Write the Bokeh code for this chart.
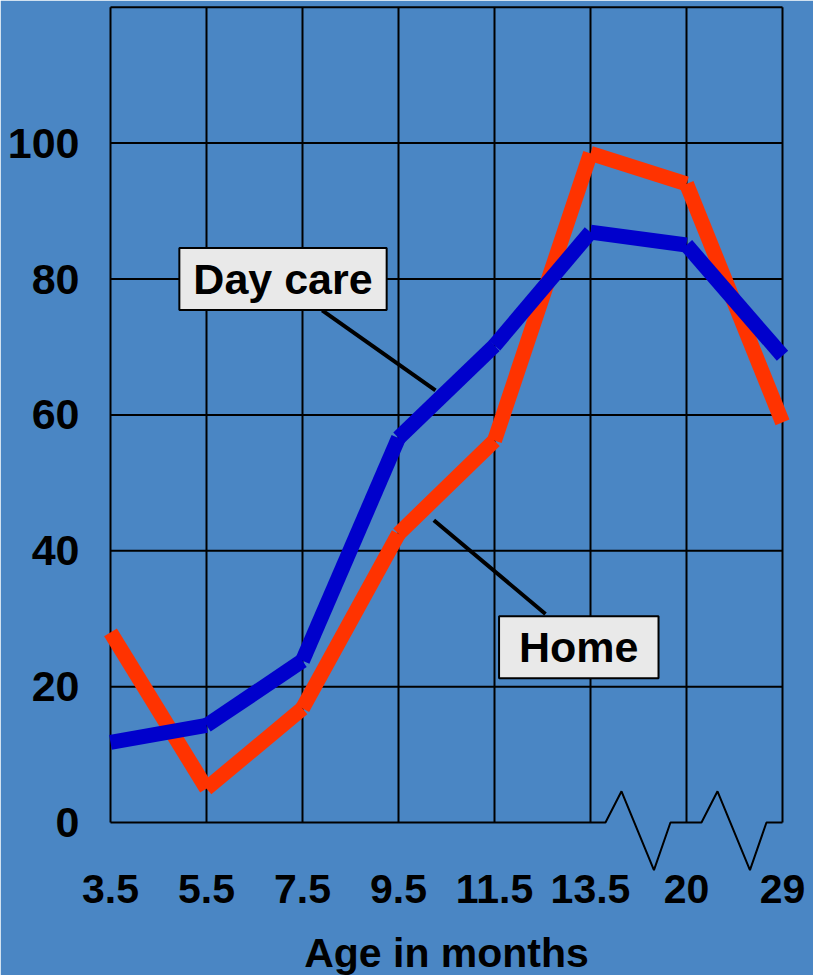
from bokeh.plotting import figure
from bokeh.models import FixedTicker, Label
from bokeh.embed import file_html
from bokeh.resources import INLINE

# ---- data ----
ages = ["3.5", "5.5", "7.5", "9.5", "11.5", "13.5", "20", "29"]
day_care = [11.8, 14.3, 23.8, 56.6, 70.2, 86.9, 85.0, 68.7]
home = [28.0, 5.0, 16.8, 42.5, 56.2, 98.5, 94.0, 58.9]
y_ticks = [0, 20, 40, 60, 80, 100]
grid_values = [20, 40, 60, 80, 100, 120]
break_after = [5, 6]  # axis breaks between 13.5-20 and 20-29

# callouts (label, x-index, value) and leader lines
callout_text = ["Day care", "Home"]
callout_x = [1.797, 4.878]
callout_y = [80.0, 25.8]
leader_x0 = [2.205, 3.368]
leader_y0 = [75.4, 44.5]
leader_x1 = [3.385, 4.531]
leader_y1 = [63.6, 30.7]

# ---- style ----
BG = "#4a86c4"
RED = "#ff3300"
BLUE = "#0000cc"
FONT = "Liberation Sans"
zig_dx = [0.156, 0.323, 0.661, 0.833]
zig_dy = [0.0, 4.6, -7.0, 0.0]

xs = list(range(len(ages)))
n = len(ages)
top = grid_values[-1]

p = figure(frame_width=696, frame_height=870, output_backend="svg", toolbar_location=None,
           x_range=(-0.125, n - 1 + 0.125), y_range=(-7.5, 120.55),
           min_border_left=98, min_border_right=19, min_border_top=3,
           min_border_bottom=102)
p.background_fill_color = BG
p.border_fill_color = BG
p.outline_line_color = BG
p.outline_line_width = 2
p.xgrid.visible = False
p.ygrid.visible = False

# grid: vertical lines from 0 to top, horizontal lines across categories
p.segment(x0=xs, y0=[0] * n, x1=xs, y1=[top] * n, line_color="black", line_width=2)
p.segment(x0=[0] * len(grid_values), y0=grid_values,
          x1=[n - 1] * len(grid_values), y1=grid_values,
          line_color="black", line_width=2)

# baseline with zig-zag breaks
bx, by = [0], [0]
for b in break_after:
    for dx, dy in zip(zig_dx, zig_dy):
        bx.append(b + dx)
        by.append(dy)
bx.append(n - 1)
by.append(0)
p.line(bx, by, line_color="black", line_width=2)

# series as separate segments (butt caps like the original)
p.segment(x0=xs[:-1], y0=home[:-1], x1=xs[1:], y1=home[1:],
          line_color=RED, line_width=15, line_cap="butt")
p.segment(x0=xs[:-1], y0=day_care[:-1], x1=xs[1:], y1=day_care[1:],
          line_color=BLUE, line_width=15, line_cap="butt")

# leader lines
p.segment(x0=leader_x0, y0=leader_y0, x1=leader_x1, y1=leader_y1,
          line_color="black", line_width=4)

pads = [(14, 7), (20, 7)]
for t, cx, cy, pad in zip(callout_text, callout_x, callout_y, pads):
    p.add_layout(Label(x=cx, y=cy, text=t, text_align="center", text_baseline="middle",
                       text_font=FONT, text_font_style="bold", text_font_size="43px",
                       text_color="black", background_fill_color="#e9e9e9",
                       border_line_color="black", border_line_width=2, padding=pad))

# axes
p.xaxis.ticker = FixedTicker(ticks=xs)
p.xaxis.major_label_overrides = {i: a for i, a in enumerate(ages)}
p.xaxis.axis_label = "Age in months"
p.yaxis.ticker = FixedTicker(ticks=y_ticks)
for ax in (p.xaxis, p.yaxis):
    ax.axis_line_color = None
    ax.major_tick_line_color = None
    ax.minor_tick_line_color = None
    ax.major_tick_out = 0
    ax.major_tick_in = 0
    ax.major_label_text_font = FONT
    ax.major_label_text_font_style = "bold"
    ax.major_label_text_color = "black"
    ax.axis_label_text_font = FONT
    ax.axis_label_text_font_style = "bold"
    ax.axis_label_text_color = "black"
p.xaxis.major_label_text_font_size = "41px"
p.yaxis.major_label_text_font_size = "43px"
p.xaxis.axis_label_text_font_size = "41px"
p.xaxis.major_label_standoff = 1
p.xaxis.axis_label_standoff = 24
p.yaxis.major_label_standoff = 19

open("out.html", "w").write(file_html(p, INLINE))
